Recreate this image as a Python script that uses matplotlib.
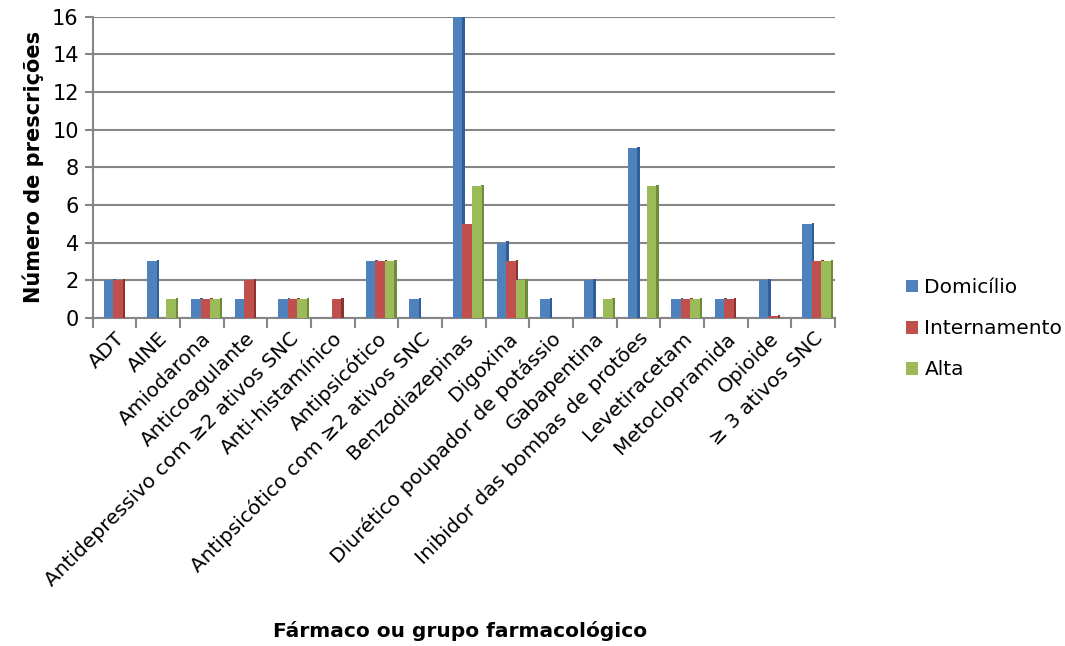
import matplotlib
matplotlib.use("Agg")
import matplotlib.pyplot as plt
import numpy as np
from matplotlib.patches import Patch

categories = ["ADT", "AINE", "Amiodarona", "Anticoagulante",
              "Antidepressivo com ≥2 ativos SNC", "Anti-histamínico",
              "Antipsicótico", "Antipsicótico com ≥2 ativos SNC",
              "Benzodiazepinas", "Digoxina", "Diurético poupador de potássio",
              "Gabapentina", "Inibidor das bombas de protões", "Levetiracetam",
              "Metoclopramida", "Opioide", "≥ 3 ativos SNC"]
domicilio = [2, 3, 1, 1, 1, 0, 3, 1, 16, 4, 1, 2, 9, 1, 1, 2, 5]
internamento = [2, 0, 1, 2, 1, 1, 3, 0, 5, 3, 0, 0, 0, 1, 1, 0.08, 3]
alta = [0, 1, 1, 0, 1, 0, 3, 0, 7, 2, 0, 1, 7, 1, 0, 0, 3]
series_names = ["Domicílio", "Internamento", "Alta"]
colors = ["#4F81BD", "#C0504D", "#9BBB59"]
side_colors = ["#2F5E99", "#8E3230", "#6F8B3A"]
yticks = [0, 2, 4, 6, 8, 10, 12, 14, 16]

plt.rcParams['font.family'] = ['DejaVu Sans']
fig = plt.figure(figsize=(10.65, 6.46), dpi=100)
ax = fig.add_axes([0.087, 0.508, 0.697, 0.466])

x = np.arange(len(categories))
w = 0.22
depth = 0.06
shift = 0.08
for i, (vals, c, sc) in enumerate(zip([domicilio, internamento, alta], colors, side_colors)):
    pos = x + (i - 1) * w + shift
    vals = np.array(vals, dtype=float)
    mask = vals > 0
    ax.bar(pos[mask] + w / 2 + depth / 2 - 0.005, vals[mask] + 0.06, width=depth,
           color=sc, zorder=3, linewidth=0)
    ax.bar(pos[mask], vals[mask], width=w, color=c, zorder=4, linewidth=0)

ax.set_xlim(-0.5, len(categories) - 0.5)
ax.set_ylim(0, 16)
ax.set_yticks(yticks)
ax.set_yticklabels([str(t) for t in yticks], fontsize=15)
ax.yaxis.grid(True, color="#868686", linewidth=1.5, zorder=0)
ax.set_axisbelow(True)
for s in ["top", "right"]:
    ax.spines[s].set_visible(False)
for s in ["left", "bottom"]:
    ax.spines[s].set_color("#868686")
    ax.spines[s].set_linewidth(1.5)
ax.tick_params(axis="y", direction="out", color="#868686", width=1.5, length=6, pad=4)

ax.set_xticks(np.arange(len(categories) + 1) - 0.5, minor=False)
ax.set_xticklabels([""] * (len(categories) + 1))
ax.tick_params(axis="x", direction="out", color="#868686", width=1.5, length=7)
ax.set_xticks(x, minor=True)
ax.set_xticklabels(categories, minor=True, rotation=45, ha="right",
                   rotation_mode="anchor", fontsize=14.5)
ax.tick_params(axis="x", which="minor", length=0, pad=8)

ax.set_ylabel("Número de prescrições", fontsize=15, fontweight="bold", labelpad=6)
fig.text(0.432, 0.008, "Fármaco ou grupo farmacológico", fontsize=14.5,
         fontweight="bold", ha="center", va="bottom")

handles = [Patch(facecolor=c, edgecolor="none") for c in colors]
fig.legend(handles, series_names, loc="center left", bbox_to_anchor=(0.834, 0.491),
           frameon=False, fontsize=14.5, handlelength=0.6, handleheight=0.6,
           handletextpad=0.3, labelspacing=1.1)

fig.savefig("out.png", dpi=100)
